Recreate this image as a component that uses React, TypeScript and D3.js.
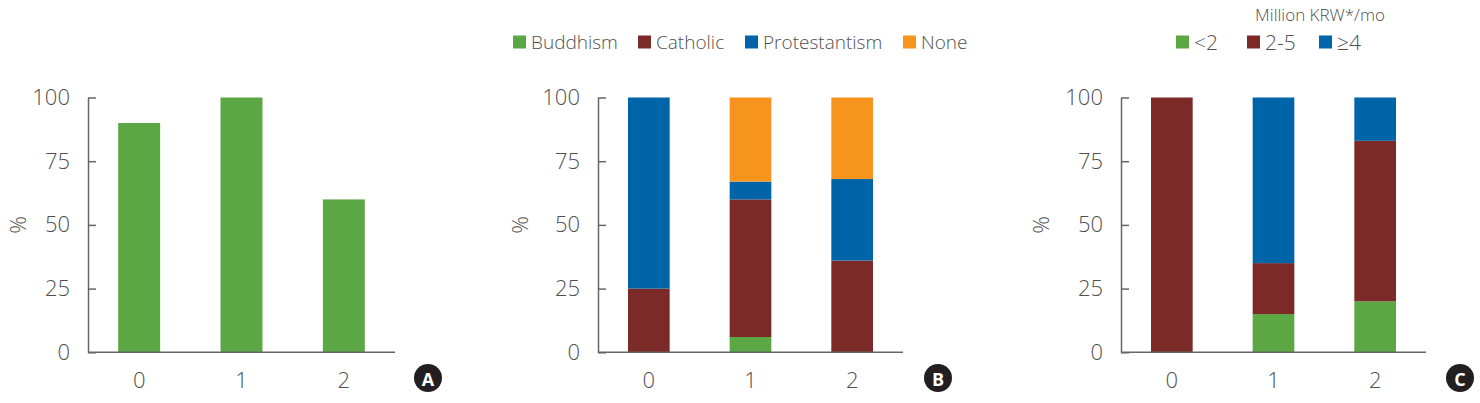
import React, {useRef, useEffect} from 'react'
import * as d3 from 'd3'

// categories and tick labels
const groups = ['0', '1', '2']
const yTicks = [0, 25, 50, 75, 100]

// panel A
const aValues = [90, 100, 60]

// panel B: religion
const religionKeys = ['Buddhism', 'Catholic', 'Protestantism', 'None']
const buddhism = [0, 6, 0]
const catholic = [25, 54, 36]
const protestantism = [75, 7, 32]
const none = [0, 33, 32]

// panel C: income
const incomeTitle = 'Million KRW*/mo'
const incomeKeys = ['<2', '2-5', '≥4']
const incomeLow = [0, 15, 20]
const incomeMid = [100, 20, 63]
const incomeHigh = [0, 65, 17]

const GREEN = '#5ba744'
const RED = '#7b2a27'
const BLUE = '#0065a8'
const ORANGE = '#f7941d'
const TEXT = '#505050'
const FONT = "'Open Sans', 'Noto Sans', sans-serif"

const App = () => {
    const element = useRef<SVGSVGElement | null>(null)

    useEffect(() => {
        const svg = d3.select(element.current)
        svg.selectAll('*').remove()

        const yTop = 97.5
        const yBottom = 352.3

        const y = d3.scaleLinear().domain([0, 100]).range([yBottom, yTop])

        const drawPanel = (x0, x1, rows, keys, colors, letter, letterX, pctX) => {
            const g = svg.append('g')
            const x = d3.scaleBand().domain(groups).range([x0, x1])
                .paddingInner(0.59).paddingOuter(0.295)

            const stack = d3.stack().keys(keys)
            const series = stack(rows)

            series.forEach((s, i) => {
                g.selectAll(null)
                    .data(s)
                    .enter()
                    .append('rect')
                    .attr('x', d => x(d.data.group))
                    .attr('width', x.bandwidth())
                    .attr('y', d => y(d[1]))
                    .attr('height', d => Math.max(0, y(d[0]) - y(d[1])))
                    .attr('fill', colors[i])
            })

            // y axis
            const yAxis = g.append('g')
                .attr('transform', `translate(${x0},0)`)
                .call(d3.axisLeft(y).tickValues(yTicks).tickSizeInner(-8).tickSizeOuter(0).tickPadding(18))
            yAxis.select('.domain').attr('stroke', '#666').attr('stroke-width', 1.5)
            yAxis.selectAll('.tick line').attr('stroke', '#666').attr('stroke-width', 1.5)
            yAxis.selectAll('.tick text')
                .attr('fill', TEXT).style('font-family', FONT).style('font-size', '22px').style('font-weight', 300)

            // x axis
            const xAxis = g.append('g')
                .attr('transform', `translate(0,${yBottom})`)
                .call(d3.axisBottom(x).tickSize(0).tickPadding(20))
            xAxis.select('.domain').attr('stroke', '#666').attr('stroke-width', 1.5)
                .attr('d', `M${x0},0H${x1}`)
            xAxis.selectAll('.tick text')
                .attr('fill', TEXT).style('font-family', FONT).style('font-size', '22px').style('font-weight', 300)

            // % label
            g.append('text')
                .attr('transform', `translate(${pctX},${(yTop + yBottom) / 2}) rotate(-90)`)
                .attr('text-anchor', 'middle')
                .attr('dominant-baseline', 'central')
                .attr('fill', TEXT)
                .style('font-family', FONT).style('font-size', '22px').style('font-weight', 300)
                .text('%')

            // panel letter
            g.append('circle')
                .attr('cx', letterX).attr('cy', 378).attr('r', 14)
                .attr('fill', '#231f20')
            g.append('text')
                .attr('x', letterX).attr('y', 379)
                .attr('text-anchor', 'middle')
                .attr('dominant-baseline', 'central')
                .attr('fill', '#fff')
                .style('font-family', FONT).style('font-size', '18px').style('font-weight', 700)
                .text(letter)
        }

        const drawLegend = (items, colors, positions, cy, size) => {
            items.forEach((label, i) => {
                svg.append('rect')
                    .attr('x', positions[i]).attr('y', cy - 6.5)
                    .attr('width', 13).attr('height', 13)
                    .attr('fill', colors[i])
                svg.append('text')
                    .attr('x', positions[i] + 18).attr('y', cy)
                    .attr('dominant-baseline', 'central')
                    .attr('fill', TEXT)
                    .style('font-family', FONT).style('font-size', size + 'px').style('font-weight', 300)
                    .text(label)
            })
        }

        // A
        const rowsA = groups.map((g, i) => ({group: g, value: aValues[i]}))
        drawPanel(88, 395, rowsA, ['value'], [GREEN], 'A', 428, 17)

        // B
        const rowsB = groups.map((g, i) => ({
            group: g,
            Buddhism: buddhism[i],
            Catholic: catholic[i],
            Protestantism: protestantism[i],
            None: none[i],
        }))
        drawPanel(598, 903, rowsB, religionKeys, [GREEN, RED, BLUE, ORANGE], 'B', 938, 519)
        drawLegend(religionKeys, [GREEN, RED, BLUE, ORANGE], [513, 638, 745, 903], 42, 19)

        // C
        const rowsC = groups.map((g, i) => ({
            group: g,
            '<2': incomeLow[i],
            '2-5': incomeMid[i],
            '≥4': incomeHigh[i],
        }))
        drawPanel(1121, 1426, rowsC, incomeKeys, [GREEN, RED, BLUE], 'C', 1460, 1040)
        drawLegend(incomeKeys, [GREEN, RED, BLUE], [1176, 1247, 1319], 42, 21)
        svg.append('text')
            .attr('x', 1320).attr('y', 14)
            .attr('text-anchor', 'middle')
            .attr('dominant-baseline', 'central')
            .attr('fill', TEXT)
            .style('font-family', FONT).style('font-size', '17px').style('font-weight', 300)
            .text(incomeTitle)
    }, [])

    return (
        <svg ref={element} width={1480} height={403}
            style={{position: 'absolute', left: 0, top: 0, background: '#fff'}} />
    )
}

export default App
